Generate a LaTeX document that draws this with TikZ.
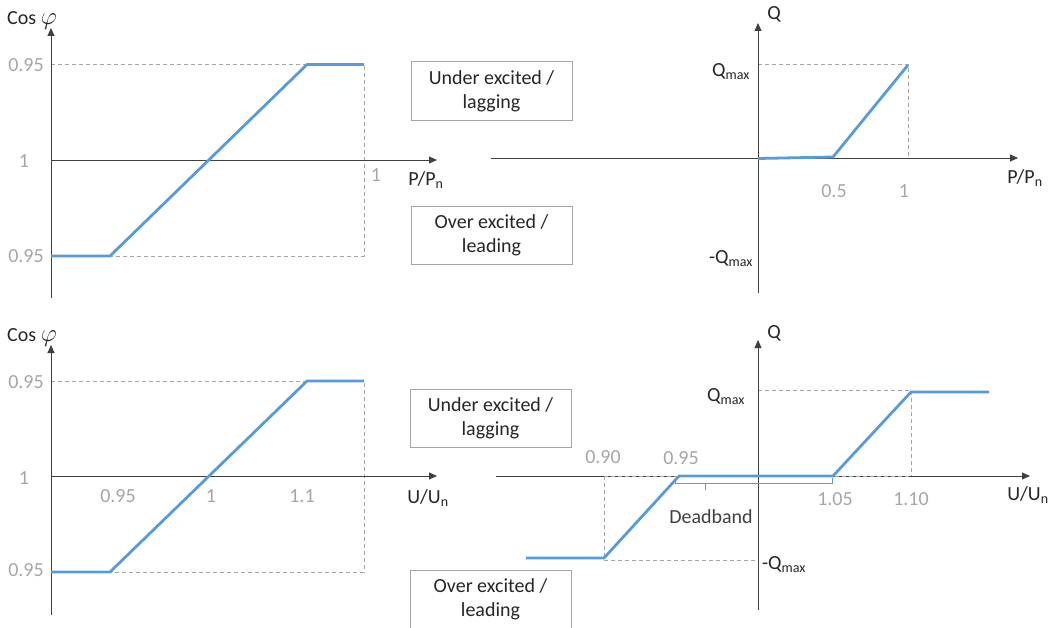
\documentclass[tikz,border=0pt]{standalone}
\usepackage{fontspec}
\setmainfont{Carlito}
\usetikzlibrary{arrows.meta}
\definecolor{axisc}{HTML}{404040}
\definecolor{numc}{HTML}{A6A6A6}
\definecolor{dashc}{HTML}{A6A6A6}
\definecolor{curvec}{HTML}{5B9BD5}
\definecolor{txtc}{HTML}{262626}
\newcommand{\bigphi}{{\fontsize{24}{24}\selectfont$\varphi$}}
\begin{document}
\begin{tikzpicture}[x=1pt,y=-1pt,
  font=\fontsize{20}{24}\selectfont,
  axis/.style={draw=axisc, line width=0.9pt, -{Triangle[length=8pt,width=7pt]}},
  guide/.style={draw=dashc, line width=0.9pt, dash pattern=on 4pt off 3pt},
  curve/.style={draw=curvec, line width=2.8pt},
  brace/.style={draw=curvec, line width=0.8pt},
  num/.style={text=numc, inner sep=0pt},
  lbl/.style={text=txtc, inner sep=0pt},
  box/.style={draw=dashc, line width=1pt, minimum width=161pt, align=center, text=txtc, inner sep=0pt}]
\useasboundingbox (0,0) rectangle (1048,628);
\clip (0,0) rectangle (1048,628);

% ---------- Panel 1 (top left) ----------
\coordinate (a1b) at (51,298); \coordinate (a1t) at (51,28);
\coordinate (a1o) at (51,160); \coordinate (a1r) at (437,160);
\draw[guide] (51,64.5) -- (364,64.5) -- (364,256) -- (51,256) -- cycle;
\draw[axis] (a1b) -- (a1t);
\draw[axis] (a1o) -- (a1r);
\draw[curve] (51,256) -- (110,256) -- (307,64.5) -- (364,64.5);
\node[lbl] (c1) at (32,20) {Cos \bigphi};
\node[num] (n11) at (26,65) {0.95};
\node[num] (n12) at (24,161) {1};
\node[num] (n13) at (26,256) {0.95};
\node[num] (n14) at (376,175) {1};
\node[lbl] (x1) at (426,180) {P/P\textsubscript{n}};

% ---------- Panel 2 (top right) ----------
\coordinate (a2b) at (758,293); \coordinate (a2t) at (758,23);
\coordinate (a2l) at (491,158); \coordinate (a2r) at (1018,158);
\draw[guide] (758,64) -- (908,64) -- (908,158) -- (758,158) -- cycle;
\draw[axis] (a2b) -- (a2t);
\draw[axis] (a2l) -- (a2r);
\draw[curve] (758,158.5) -- (833,157) -- (908,65);
\node[lbl] (q2) at (774,14) {Q};
\node[lbl] (qm2) at (731,72) {Q\textsubscript{max}};
\node[lbl] (qn2) at (731,259) {-Q\textsubscript{max}};
\node[num] (n21) at (834,191) {0.5};
\node[num] (n22) at (904,191) {1};
\node[lbl] (x2) at (1025,178) {P/P\textsubscript{n}};

% ---------- Panel 3 (bottom left) ----------
\coordinate (a3b) at (51,615); \coordinate (a3t) at (51,345);
\coordinate (a3o) at (51,476); \coordinate (a3r) at (437,476);
\draw[guide] (51,381) -- (364,381) -- (364,572) -- (51,572) -- cycle;
\draw[axis] (a3b) -- (a3t);
\draw[axis] (a3o) -- (a3r);
\draw[curve] (51,572) -- (110,572) -- (307,381) -- (364,381);
\node[lbl] (c3) at (32,337) {Cos \bigphi};
\node[num] (n31) at (26,382) {0.95};
\node[num] (n32) at (24,478) {1};
\node[num] (n33) at (26,570) {0.95};
\node[num] (n34) at (118,496) {0.95};
\node[num] (n35) at (211,496) {1};
\node[num] (n36) at (302,496) {1.1};
\node[lbl] (x3) at (428,498) {U/U\textsubscript{n}};

% ---------- Panel 4 (bottom right) ----------
\coordinate (a4b) at (758,610); \coordinate (a4t) at (758,340);
\coordinate (a4l) at (496,476); \coordinate (a4r) at (1030,476);
\draw[guide] (758,390) -- (911,390) -- (911,476);
\draw[guide] (604,476) -- (604,560) -- (758,560);
\draw[guide] (758,390) -- (758,560);
\draw[axis] (a4b) -- (a4t);
\draw[axis] (a4l) -- (a4r);
\draw[guide] (604,476) -- (911,476);
\draw[curve] (526,558) -- (604,558) -- (679,476) -- (833,476) -- (911,392) -- (989,392);
\draw[brace] (675,478) -- (675,483) -- (705,483) -- (705,490);
\draw[brace] (705,483) -- (832,483) -- (832,478);
\node[lbl] (q4) at (774,333) {Q};
\node[lbl] (qm4) at (726,397) {Q\textsubscript{max}};
\node[lbl] (qn4) at (784,565) {-Q\textsubscript{max}};
\node[num] (n41) at (603,457) {0.90};
\node[num] (n42) at (681,458) {0.95};
\node[num] (n43) at (835,499) {1.05};
\node[num] (n44) at (911,499) {1.10};
\node[lbl] (x4) at (1028,495) {U/U\textsubscript{n}};
\node[lbl, text=axisc] (db) at (711,517) {Deadband};

% ---------- Boxes ----------
\node[box, minimum height=59pt] (b1) at (491.5,91.5) {Under excited /\\lagging};
\node[box, minimum height=57pt] (b2) at (491.5,235.5) {Over excited /\\leading};
\node[box, minimum height=58pt] (b3) at (490.5,418.5) {Under excited /\\lagging};
\node[box, minimum height=58pt] (b4) at (490.5,599) {Over excited /\\leading};
\end{tikzpicture}
\end{document}
